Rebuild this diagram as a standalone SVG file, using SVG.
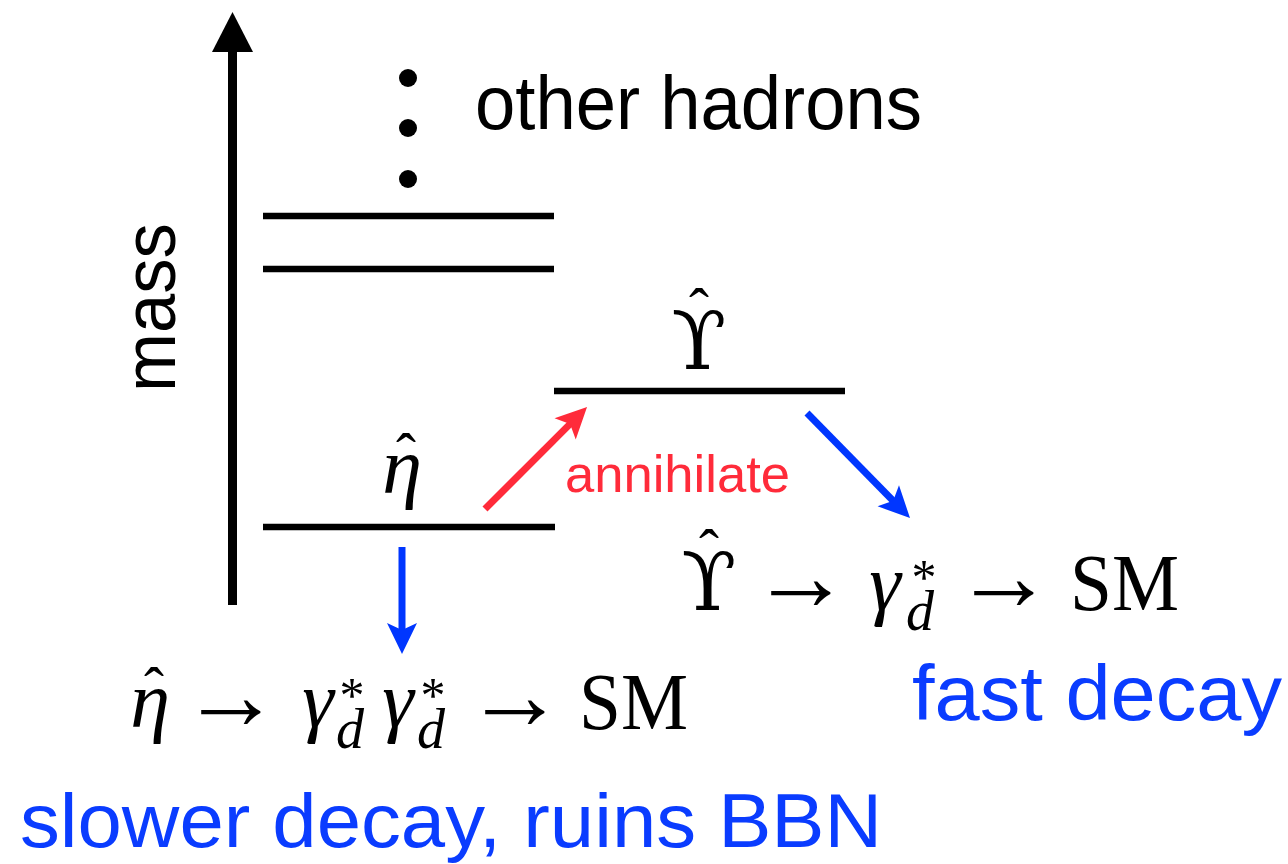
<svg xmlns="http://www.w3.org/2000/svg" width="1288" height="864" viewBox="0 0 1288 864">
  <style>
    .lvl { stroke: #000; stroke-width: 6.5; fill: none; }
    .sans { font-family: "Liberation Sans", Arial, sans-serif; }
    .math { font-family: "Liberation Serif", "DejaVu Serif", serif; fill: #000; }
    .ups { font-family: "DejaVu Serif", "Liberation Serif", serif; fill: #000; }
    .arr { font-family: "Liberation Serif", "DejaVu Serif", serif; fill: #000; font-size: 100px; }
    .it { font-style: italic; }
    .blue { fill: #0a3cff; }
    .red { fill: #ff2b3a; }
  </style>
  <defs>
    <marker id="headRed" markerUnits="userSpaceOnUse" viewBox="-12 -16 33 32" markerWidth="33" markerHeight="32" refX="0" refY="0" orient="auto">
      <path d="M20,0 L-11,-15 L-4,0 L-11,15 Z" fill="#ff2b3a"/>
    </marker>
    <marker id="headBlue" markerUnits="userSpaceOnUse" viewBox="-12 -16 33 32" markerWidth="33" markerHeight="32" refX="0" refY="0" orient="auto">
      <path d="M20,0 L-11,-15 L-4,0 L-11,15 Z" fill="#0036ff"/>
    </marker>
  </defs>
  <rect width="1288" height="864" fill="#fff"/>

  <g id="mass-axis">
    <line x1="232.5" y1="50" x2="232.5" y2="605" stroke="#000" stroke-width="9"/>
    <polygon points="232.5,12 212,52 253,52" fill="#000"/>
    <text class="sans" transform="translate(175,392) rotate(-90)" x="0" y="0" font-size="74" textLength="169" lengthAdjust="spacingAndGlyphs">mass</text>
  </g>

  <g id="other-hadrons">
    <circle cx="408" cy="78" r="9" fill="#000"/>
    <circle cx="408" cy="128" r="9" fill="#000"/>
    <circle cx="408" cy="179" r="9" fill="#000"/>
    <text class="sans" x="475" y="129" font-size="76" textLength="447" lengthAdjust="spacingAndGlyphs">other hadrons</text>
  </g>

  <g id="level-upper-1">
    <line class="lvl" x1="263" y1="216" x2="554" y2="216"/>
  </g>
  <g id="level-upper-2">
    <line class="lvl" x1="263" y1="269" x2="554" y2="269"/>
  </g>

  <g id="level-eta">
    <line class="lvl" x1="263" y1="527" x2="555" y2="527"/>
    <text class="math it" x="402" y="493" font-size="80" text-anchor="middle">η</text>
    <text class="math" x="406" y="474" font-size="60" text-anchor="middle">ˆ</text>
  </g>

  <g id="level-upsilon">
    <line class="lvl" x1="554" y1="391" x2="845" y2="391"/>
    <text class="ups" x="699" y="369" font-size="80" text-anchor="middle">ϒ</text>
    <text class="math" x="699" y="329" font-size="60" text-anchor="middle">ˆ</text>
  </g>

  <g id="annihilate-label">
    <text class="sans red" x="565" y="492" font-size="52" textLength="225" lengthAdjust="spacingAndGlyphs">annihilate</text>
  </g>

  <g id="eta-decay">
    <text class="math it" x="150" y="727" font-size="80" text-anchor="middle">η</text>
    <text class="math" x="154" y="708" font-size="60" text-anchor="middle">ˆ</text>
    <text class="arr" x="231" y="729" text-anchor="middle">→</text>
    <text class="math it" x="318" y="727" font-size="80" text-anchor="middle">γ</text>
    <text class="math" x="352" y="712" font-size="50" text-anchor="middle">*</text>
    <text class="math it" x="350" y="748" font-size="56" text-anchor="middle">d</text>
    <text class="math it" x="398" y="727" font-size="80" text-anchor="middle">γ</text>
    <text class="math" x="433" y="712" font-size="50" text-anchor="middle">*</text>
    <text class="math it" x="431" y="748" font-size="56" text-anchor="middle">d</text>
    <text class="arr" x="515" y="729" text-anchor="middle">→</text>
    <text class="math" x="579" y="729" font-size="80" textLength="109" lengthAdjust="spacingAndGlyphs">SM</text>
    <text class="sans blue" x="20" y="847" font-size="76" textLength="862" lengthAdjust="spacingAndGlyphs">slower decay, ruins BBN</text>
  </g>

  <g id="upsilon-decay">
    <text class="ups" x="709" y="610" font-size="80" text-anchor="middle">ϒ</text>
    <text class="math" x="709" y="570" font-size="60" text-anchor="middle">ˆ</text>
    <text class="arr" x="801" y="610" text-anchor="middle">→</text>
    <text class="math it" x="885" y="610" font-size="80" text-anchor="middle">γ</text>
    <text class="math" x="924" y="594" font-size="50" text-anchor="middle">*</text>
    <text class="math it" x="920" y="630" font-size="56" text-anchor="middle">d</text>
    <text class="arr" x="1004" y="610" text-anchor="middle">→</text>
    <text class="math" x="1070" y="610" font-size="80" textLength="109" lengthAdjust="spacingAndGlyphs">SM</text>
    <text class="sans blue" x="912" y="720" font-size="78" textLength="370" lengthAdjust="spacingAndGlyphs">fast decay</text>
  </g>

  <g id="connectors">
    <line x1="485" y1="509" x2="572.9" y2="421.1" stroke="#ff2b3a" stroke-width="7" marker-end="url(#headRed)"/>
    <line x1="807" y1="413" x2="896" y2="503.7" stroke="#0036ff" stroke-width="7" marker-end="url(#headBlue)"/>
    <line x1="402" y1="547" x2="402" y2="634" stroke="#0036ff" stroke-width="7" marker-end="url(#headBlue)"/>
  </g>
</svg>
